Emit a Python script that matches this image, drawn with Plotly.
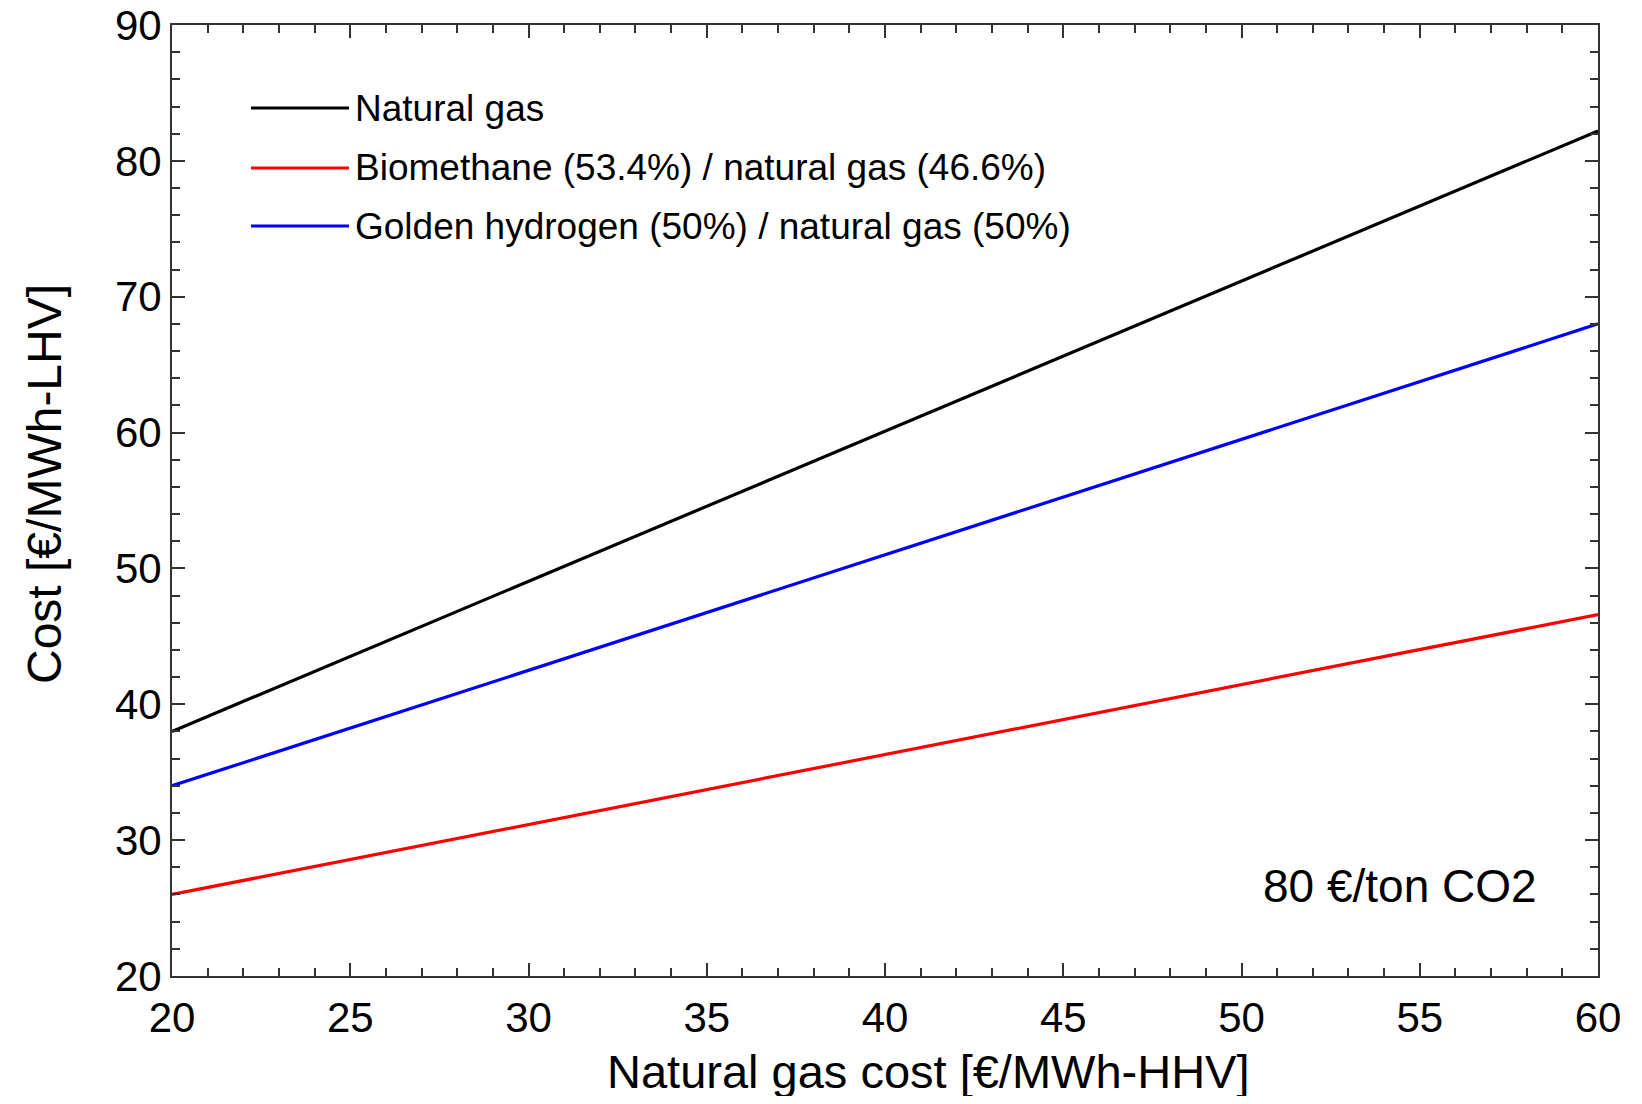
import plotly.graph_objects as go

# Data
gas_cost = [20, 60]
natural_gas = [38.0, 82.2]
biomethane_mix = [26.0, 46.6]
hydrogen_mix = [34.0, 68.0]

series_names = [
    "Natural gas",
    "Biomethane (53.4%) / natural gas (46.6%)",
    "Golden hydrogen (50%) / natural gas (50%)",
]
series_values = [natural_gas, biomethane_mix, hydrogen_mix]
series_colors = ["#000000", "#ff0000", "#0000ff"]

x_ticks = [20, 25, 30, 35, 40, 45, 50, 55, 60]
y_ticks = [20, 30, 40, 50, 60, 70, 80, 90]

FONT = "Liberation Sans, Arial, sans-serif"

fig = go.Figure()
for name, vals, col in zip(series_names, series_values, series_colors):
    fig.add_trace(go.Scatter(x=gas_cost, y=vals, mode="lines", name=name,
                             line=dict(color=col, width=3.2), showlegend=False))

# page has an 8px body margin; figure sized to fit the window
OFF = 8
W, H = 1642 - 2 * OFF, 1104 - 2 * OFF
# plot area in page pixels: x 172..1598, y 25..976
L, T = 172 - OFF, 25 - OFF
R = W - (1598 - OFF)
B = H - (976 - OFF)
pw, ph = W - L - R, H - T - B


def px(xpage):
    return (xpage - OFF - L) / pw


def py(ypage):
    return 1 - (ypage - OFF - T) / ph


# custom legend (paper coordinates)
leg_rows = [108, 168, 226]
shapes = []
annotations = []
for name, col, yy in zip(series_names, series_colors, leg_rows):
    shapes.append(dict(type="line", xref="paper", yref="paper", x0=px(251), x1=px(349),
                       y0=py(yy), y1=py(yy), line=dict(color=col, width=3)))
    annotations.append(dict(xref="paper", yref="paper", x=px(353), y=py(yy),
                            text=name, showarrow=False, xanchor="left", yanchor="middle",
                            font=dict(family=FONT, size=37, color="black")))

annotations.append(dict(xref="paper", yref="paper", x=px(1400), y=py(886),
                        text="80 €/ton CO2", showarrow=False, xanchor="center", yanchor="middle",
                        font=dict(family=FONT, size=46, color="black")))

# axis titles
annotations.append(dict(xref="paper", yref="paper", x=px(928), y=py(1071),
                        text="Natural gas cost [€/MWh-HHV]", showarrow=False,
                        xanchor="center", yanchor="middle",
                        font=dict(family=FONT, size=47, color="black")))
annotations.append(dict(xref="paper", yref="paper", x=px(44), y=py(484),
                        text="Cost [€/MWh-LHV]", showarrow=False, textangle=-90,
                        xanchor="center", yanchor="middle",
                        font=dict(family=FONT, size=48, color="black")))

axis_common = dict(
    showgrid=False, zeroline=False, showline=True, linecolor="#333333", linewidth=2,
    mirror="allticks", ticks="inside", ticklen=13, tickwidth=1.5, tickcolor="#333333",
    tickfont=dict(family=FONT, size=42, color="black"), automargin=False,
    ticklabeloverflow="allow",
)

fig.update_xaxes(range=[20, 60], tickvals=x_ticks, ticktext=[str(v) for v in x_ticks],
                 minor=dict(dtick=1, ticks="inside", ticklen=8, tickwidth=1.5, tickcolor="#333333"),
                 ticklabelstandoff=4,
                 **axis_common)
fig.update_yaxes(range=[20, 90], tickvals=y_ticks, ticktext=[str(v) for v in y_ticks],
                 minor=dict(dtick=2, ticks="inside", ticklen=8, tickwidth=1.5, tickcolor="#333333"),
                 ticklabelstandoff=0,
                 **axis_common)

fig.update_layout(
    width=W, height=H, autosize=False,
    margin=dict(l=L, r=R, t=T, b=B, pad=0),
    paper_bgcolor="white", plot_bgcolor="white",
    shapes=shapes, annotations=annotations,
    font=dict(family=FONT, color="black"),
)

fig.write_html("out.html")
